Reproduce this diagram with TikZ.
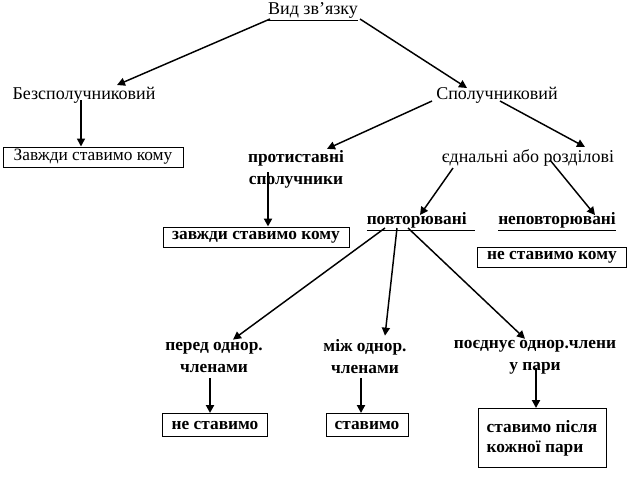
\documentclass[tikz,border=0pt]{standalone}
\usepackage{fontspec}
\setmainfont{Liberation Serif}
\usetikzlibrary{arrows.meta,calc}
\begin{document}
\begin{tikzpicture}[x=0.75pt,y=-0.75pt,
  txt/.style={inner sep=0pt,font=\fontsize{13.5}{16.5}\selectfont,align=center},
  btxt/.style={inner sep=0pt,font=\fontsize{13}{16.5}\selectfont\bfseries,align=center},
  box/.style={draw,line width=0.75pt,inner sep=0pt,font=\fontsize{13}{15}\selectfont},
  bbox/.style={box,font=\fontsize{13}{15}\selectfont\bfseries},
  arr/.style={line width=1.1pt,-{Triangle[length=6pt,width=6pt]}},
  tarr/.style={line width=1.6pt,-{Triangle[length=6pt,width=6pt]}}]
\useasboundingbox (0,0) rectangle (630,501);
\node[txt] (vid) at (313,12) {\underline{Вид зв’язку}};
\node[txt] (bez) at (84,95) {Безсполучниковий};
\node[txt] (spol) at (497,95) {Сполучниковий};
\node[box,minimum width=135pt,minimum height=15pt] (b1) at (93,157) {Завжди ставимо кому};
\node[btxt] (prot) at (296,169) {протиставні\\сполучники};
\node[txt] (edn) at (528,158) {єднальні або розділові};
\node[bbox,minimum width=139.5pt,minimum height=15pt] (b2) at (256,237) {завжди ставимо кому};
\node[btxt] (povt) at (421,222) {\underline{повторювані\ \ }};
\node[btxt] (nepovt) at (557,222) {\underline{неповторювані}};
\node[bbox,minimum width=111.75pt,minimum height=15pt] (b3) at (552,257) {не ставимо кому};
\node[btxt] (per) at (214,357) {перед однор.\\членами};
\node[btxt] (mizh) at (365,357) {між однор.\\членами};
\node[btxt] (poed) at (535,357) {поєднує однор.члени\\у пари};
\node[bbox,minimum width=78.75pt,minimum height=17.25pt] (b4) at (215,425) {не ставимо};
\node[bbox,minimum width=61.5pt,minimum height=17.25pt] (b5) at (367,425) {ставимо};
\node[bbox,minimum width=96pt,minimum height=44.25pt,align=left,font=\fontsize{13}{15}\selectfont\bfseries] (b6) at (542,438) {ставимо після\\кожної пари};
% connectors
\draw[arr] ($(vid.center)+(-43,7)$) -- ($(bez.center)+(33,-10)$);
\draw[arr] ($(vid.center)+(47,7)$) -- ($(spol.center)+(-30,-7)$);
\draw[arr] ($(bez.center)+(-3,5)$) -- (b1.north -| {$(bez.center)+(-3,0)$});
\draw[arr] ($(spol.center)+(-65,6)$) -- ($(prot.north)+(31,-1)$);
\draw[arr] ($(spol.center)+(3,6)$) -- ($(edn.center)+(57,-11)$);
\draw[tarr] ($(prot.center)+(-28,3)$) -- (b2.north -| {$(prot.center)+(-28,0)$});
\draw[arr] ($(edn.center)+(-75,10)$) -- ($(povt.center)+(-1,-7)$);
\draw[arr] ($(edn.center)+(22,2)$) -- ($(nepovt.center)+(38,-7)$);
\draw[arr] ($(povt.center)+(-36,6)$) -- ($(per.north)+(19,-2)$);
\draw[arr] ($(povt.center)+(-24,6)$) -- ($(mizh.north)+(20,-4)$);
\draw[arr] ($(povt.center)+(-13,6)$) -- ($(poed.north)+(-10,-1)$);
\draw[tarr] ($(per.center)+(-4,21)$) -- (b4.north -| {$(per.center)+(-4,0)$});
\draw[tarr] ($(mizh.center)+(-4,21)$) -- (b5.north -| {$(mizh.center)+(-4,0)$});
\draw[tarr] ($(poed.center)+(1,11)$) -- (b6.north -| {$(poed.center)+(1,0)$});
\end{tikzpicture}
\end{document}
